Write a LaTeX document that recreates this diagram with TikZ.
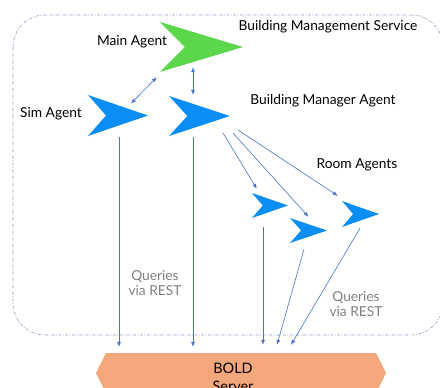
\documentclass[tikz,border=0pt]{standalone}
\usepackage{fontspec}
\setmainfont{Lato}
\usetikzlibrary{positioning,calc,arrows.meta,shapes.symbols}

\definecolor{agentgreen}{HTML}{5CD64A}
\definecolor{agentblue}{HTML}{0A8EF5}
\definecolor{linkblue}{HTML}{4A72C8}
\definecolor{boxgray}{HTML}{8A9CC0}
\definecolor{serverorange}{HTML}{F4A77B}

\tikzset{
agent/.style={rectangle, inner sep=0pt, path picture={
    \fill[#1] (path picture bounding box.north west)
      -- (path picture bounding box.east)
      -- (path picture bounding box.south west)
      -- ($(path picture bounding box.west)!0.3!(path picture bounding box.east)$)
      -- cycle;}},
link/.style={draw=linkblue, line width=0.6bp},
>={Latex[length=5bp,width=4bp]},
tag/.style={font=\fontsize{13.8}{16}\selectfont},
query/.style={font=\fontsize{13.8}{16}\selectfont, text=gray, align=center}
}

\begin{document}
\begin{tikzpicture}[x=1bp, y=-1bp]
\useasboundingbox (0,0) rectangle (440,387);

% service boundary
\draw[boxgray, line width=0.6bp, dash pattern=on 3bp off 1.5bp on 0.8bp off 1.5bp,
      rounded corners=32bp] (13,15) rectangle (443,335);
\node[tag] (service) at (328,27) {Building Management Service};

% agents
\node[agent=agentgreen, minimum width=83bp, minimum height=50bp] (main) at (201.5,47) {};
\node[agent=agentblue, minimum width=60bp, minimum height=41bp] (sim) at (118,115.5) {};
\node[agent=agentblue, minimum width=61bp, minimum height=40bp] (manager) at (199.5,116) {};
\node[agent=agentblue, minimum width=36bp, minimum height=25bp] (room1) at (270,205.5) {};
\node[agent=agentblue, minimum width=37bp, minimum height=25bp] (room2) at (308.5,230.5) {};
\node[agent=agentblue, minimum width=37bp, minimum height=26bp] (room3) at (360.5,214) {};

\node[tag] (mainlbl) at (132,42) {Main Agent};
\node[tag] (simlbl) at (51,114) {Sim Agent};
\node[tag] (managerlbl) at (323,101) {Building Manager Agent};
\node[tag] (roomlbl) at (357,165) {Room Agents};

% BOLD server
\node[signal, signal to=west and east, signal pointer angle=127, fill=serverorange,
      minimum width=290bp, minimum height=40bp, inner sep=0pt] (server) at (241,373) {};
\node[tag, align=center, font=\fontsize{14.5}{18}\selectfont] (serverlbl) at (233,377) {BOLD\\Server};

% agent links
\draw[link,<->] ([shift={(13,-12)}]sim.center) -- ([shift={(-3,5)}]main.south west);
\draw[link,<->] ([shift={(-8.5,-5)}]main.south) -- ([shift={(-6.5,-1)}]manager.north);
\draw[link,->] ([shift={(23.5,17)}]manager.center) -- ([shift={(5,-4)}]room1.north west);
\draw[link,->] ([shift={(33.5,17)}]manager.center) -- ([shift={(0,-1)}]room2.north);
\draw[link,->] ([shift={(38.5,14)}]manager.center) -- ([shift={(-4,-5)}]room3.north west);

% queries to the server
\draw[link,->] ([shift={(1,1)}]sim.south) -- ([shift={(-122,-6)}]server.north);
\draw[link,->] ([shift={(-6.5,1)}]manager.south) -- ([shift={(-48,-6)}]server.north);
\draw[link,->] ([shift={(-7,9)}]room1.south) -- ([shift={(22,-8)}]server.north);
\draw[link,->] ([shift={(-4.5,6)}]room2.south) -- ([shift={(36,-8)}]server.north);
\draw[link,->] ([shift={(-0.5,1)}]room3.south) -- ([shift={(50,-8)}]server.north);

\node[query] (query1) at (155,283) {Queries\\via REST};
\node[query] (query2) at (356,304) {Queries\\via REST};

\end{tikzpicture}
\end{document}
